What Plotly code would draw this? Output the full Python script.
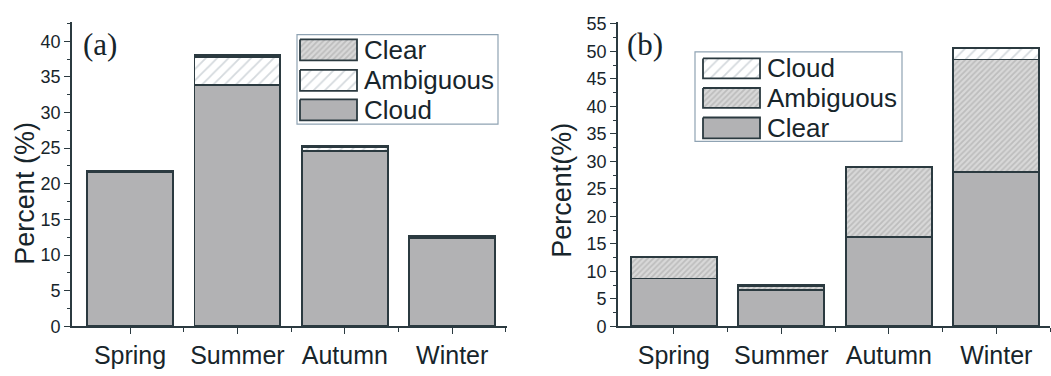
import plotly.graph_objects as go

# Seasonal percentages, panel (a): cloudy-sky samples
seasons = ["Spring", "Summer", "Autumn", "Winter"]
a_cloud = [21.7, 33.9, 24.6, 12.4]
a_ambiguous = [0.1, 3.9, 0.5, 0.1]
a_clear = [0.0, 0.3, 0.2, 0.2]

# Panel (b): clear-sky samples
b_clear = [8.7, 6.6, 16.3, 28.0]
b_ambiguous = [3.9, 0.7, 12.6, 20.5]
b_cloud = [0.0, 0.3, 0.1, 2.1]

W, H = 1051, 376
EDGE = "#2b3a40"
SOLID = "#b2b2b4"
TEXT = "#17252b"
FONT = "Liberation Sans, Arial, sans-serif"

# fill styles: solid grey, light open hatch, dense grey hatch
STYLES = {
    "solid": dict(color=SOLID, pattern=None),
    "light": dict(color="white", pattern=dict(shape="/", fgcolor="#a9b3bb", bgcolor="white",
                                              size=8, solidity=0.22)),
    "dense": dict(color="#d6d6d6", pattern=dict(shape="/", fgcolor="#a2a2a2", bgcolor="#d8d8d8",
                                                size=4, solidity=0.45)),
}

xpos = list(range(len(seasons)))
fig = go.Figure()


def add_bar(vals, name, style, xa, ya):
    st = STYLES[style]
    marker = dict(color=st["color"], line=dict(color=EDGE, width=1.8))
    if st["pattern"]:
        marker["pattern"] = st["pattern"]
    fig.add_trace(go.Bar(x=xpos, y=vals, name=name, width=0.8, marker=marker,
                         xaxis=xa, yaxis=ya, showlegend=False))


add_bar(a_cloud, "Cloud", "solid", "x", "y")
add_bar(a_ambiguous, "Ambiguous", "light", "x", "y")
add_bar(a_clear, "Clear", "dense", "x", "y")

add_bar(b_clear, "Clear", "solid", "x2", "y2")
add_bar(b_ambiguous, "Ambiguous", "dense", "x2", "y2")
add_bar(b_cloud, "Cloud", "light", "x2", "y2")

# --- legend boxes, drawn on a pixel-space overlay axis ---
shapes = []
annotations = []


def legend_box(x0, y0, x1, y1, sw_x, sw_w, rows, text_x):
    shapes.append(dict(type="rect", xref="x3", yref="y3", x0=x0, y0=y0, x1=x1, y1=y1,
                       line=dict(color="#8fa3b3", width=1.2), fillcolor="white", layer="below"))
    for (ya, yb, label, style) in rows:
        st = STYLES[style]
        kw = dict(fillcolor=st["color"] if style != "light" else "white")
        if st["pattern"]:
            kw["fillpattern"] = st["pattern"]
        fig.add_trace(go.Scatter(
            x=[sw_x, sw_x + sw_w, sw_x + sw_w, sw_x, sw_x],
            y=[ya, ya, yb, yb, ya], mode="lines", fill="toself",
            line=dict(color=EDGE, width=1.8), xaxis="x3", yaxis="y3",
            showlegend=False, hoverinfo="skip", **kw))
        annotations.append(dict(x=text_x, y=(ya + yb) / 2, xref="x3", yref="y3",
                                text=label, showarrow=False, xanchor="left", yanchor="middle",
                                font=dict(family=FONT, size=26, color=TEXT)))


legend_box(297, 28, 498, 122, 300, 57,
           [(33, 55, "Clear", "dense"), (65, 87, "Ambiguous", "light"), (96, 118, "Cloud", "solid")],
           362)
legend_box(695, 46, 902, 140, 703, 57,
           [(53, 74, "Cloud", "light"), (84, 105, "Ambiguous", "dense"), (115, 137, "Clear", "solid")],
           765)

# panel labels
for x, lab in [(81, "(a)"), (625, "(b)")]:
    annotations.append(dict(x=x, y=38, xref="x3", yref="y3", text=lab, showarrow=False,
                            xanchor="left", yanchor="middle",
                            font=dict(family="Liberation Serif, Times New Roman, serif", size=31,
                                      color=TEXT)))

# y-axis titles, set slightly below the plot-area centre
for x, y, lab in [(25, 195, "Percent (%)"), (562, 192, "Percent(%)")]:
    annotations.append(dict(x=x, y=y, xref="x3", yref="y3", text=lab, showarrow=False,
                            textangle=-90, xanchor="center", yanchor="middle",
                            font=dict(family=FONT, size=27, color=TEXT)))

ydom = [1 - 334.3 / H, 1 - 15 / H]

yaxis_common = dict(
    domain=ydom, showline=True, linecolor=EDGE, linewidth=1.6, ticks="outside",
    ticklen=6, tickwidth=1.4, tickcolor=EDGE, showgrid=False, zeroline=False,
    dtick=5, tick0=0, tickfont=dict(family=FONT, size=18, color=TEXT),
    minor=dict(dtick=2.5, ticks="outside", ticklen=3, tickwidth=1, tickcolor=EDGE),
)
xaxis_common = dict(
    showline=True, linecolor=EDGE, linewidth=1.6, ticks="outside", ticklen=6,
    tickwidth=1.4, tickcolor=EDGE, showgrid=False, zeroline=False,
    tickmode="array", tickvals=xpos, ticktext=seasons,
    tickfont=dict(family=FONT, size=25, color=TEXT),
    minor=dict(tickmode="array", tickvals=[0.5, 1.5, 2.5, 3.5], ticks="outside",
               ticklen=4, tickwidth=1, tickcolor=EDGE),
)

fig.update_layout(
    width=W, height=H, margin=dict(l=0, r=0, t=0, b=0),
    paper_bgcolor="white", plot_bgcolor="rgba(0,0,0,0)",
    barmode="stack", showlegend=False,
    xaxis=dict(domain=[72 / W, 507 / W], range=[-0.54, 3.51], anchor="y", **xaxis_common),
    yaxis=dict(range=[0, 42.67], anchor="x", **yaxis_common),
    xaxis2=dict(domain=[618 / W, 1050 / W], range=[-0.52, 3.5], anchor="y2", **xaxis_common),
    yaxis2=dict(range=[0, 55.28], anchor="x2", **yaxis_common),
    xaxis3=dict(domain=[0, 1], range=[0, W], anchor="y3", visible=False, fixedrange=True),
    yaxis3=dict(domain=[0, 1], range=[H, 0], anchor="x3", visible=False, fixedrange=True),
    shapes=shapes, annotations=annotations,
)

fig.write_html("out.html")
